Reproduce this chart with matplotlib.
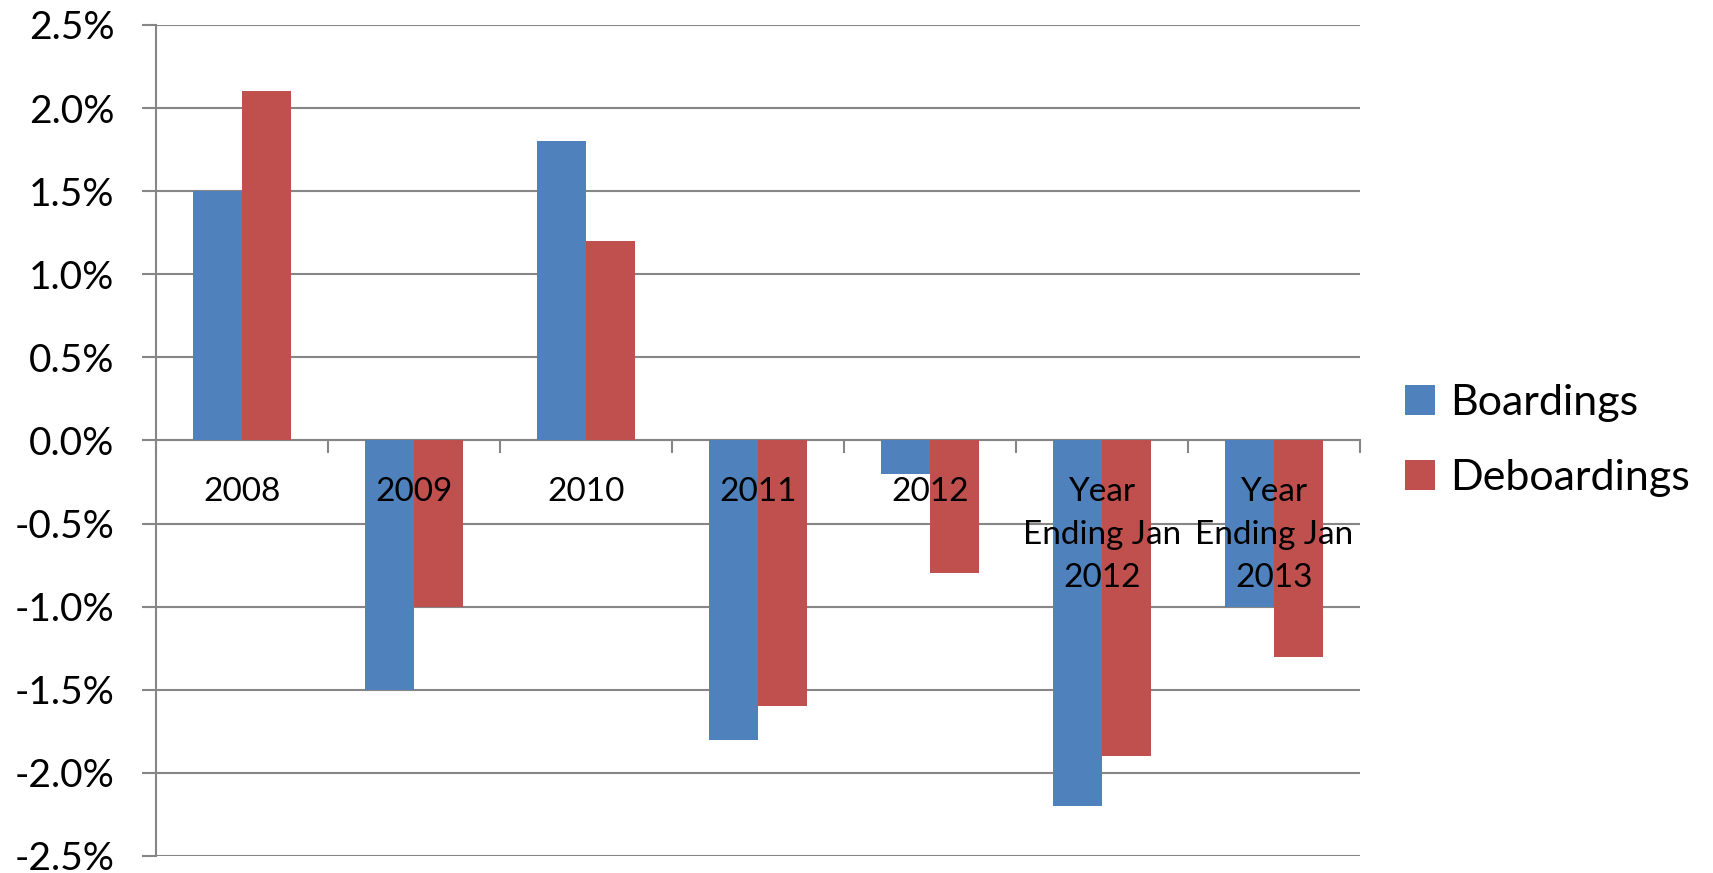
import numpy as np
import matplotlib.pyplot as plt
from matplotlib.ticker import FuncFormatter

categories = ['2008', '2009', '2010', '2011', '2012',
              'Year\nEnding Jan\n2012', 'Year\nEnding Jan\n2013']
boardings = [1.5, -1.5, 1.8, -1.8, -0.2, -2.2, -1.0]
deboardings = [2.1, -1.0, 1.2, -1.6, -0.8, -1.9, -1.3]

plt.rcParams['font.family'] = ['Lato', 'DejaVu Sans']
grid_col = '#868686'

fig = plt.figure(figsize=(17.13, 8.73), dpi=100)
ax = fig.add_axes([156 / 1713, 1 - 856 / 873, (1360 - 156) / 1713, (856 - 25) / 873])

x = np.arange(len(categories))
w = 0.286
ax.bar(x - w / 2, boardings, w, color='#4F81BD', label='Boardings', zorder=3)
ax.bar(x + w / 2, deboardings, w, color='#C0504D', label='Deboardings', zorder=3)

ax.set_xlim(-0.5, len(categories) - 0.5)
ax.set_ylim(-2.5, 2.5)
ax.set_yticks(np.arange(-2.5, 2.51, 0.5))
ax.yaxis.set_major_formatter(FuncFormatter(lambda v, p: f'{v:.1f}%'))
ax.grid(axis='y', color=grid_col, linewidth=1.5, zorder=0)
ax.tick_params(axis='y', length=10, width=1.5, color=grid_col, labelsize=28, pad=20)
for lbl in ax.get_yticklabels():
    lbl.set_verticalalignment('center_baseline')

for s in ['top', 'right']:
    ax.spines[s].set_visible(False)
ax.spines['left'].set_color(grid_col)
ax.spines['left'].set_linewidth(1.5)
ax.spines['bottom'].set_position(('data', 0))
ax.spines['bottom'].set_color(grid_col)
ax.spines['bottom'].set_linewidth(1.5)

ax.set_xticks(x)
ax.set_xticklabels(categories, fontsize=24, linespacing=1.55, va='top')
ax.set_xticks(np.arange(-0.5, len(categories), 1), minor=True)
ax.tick_params(axis='x', which='major', length=0, pad=26)
ax.tick_params(axis='x', which='minor', length=9, width=1.5, color=grid_col, direction='out')
# category labels sit on top of the bars
ax.xaxis.set_zorder(4)

ax.legend(loc='center left', bbox_to_anchor=(1.005, 0.5), frameon=False, fontsize=31,
          handlelength=0.7, handleheight=0.7, handletextpad=0.35, labelspacing=0.85)

fig.savefig('out.png', dpi=100)
